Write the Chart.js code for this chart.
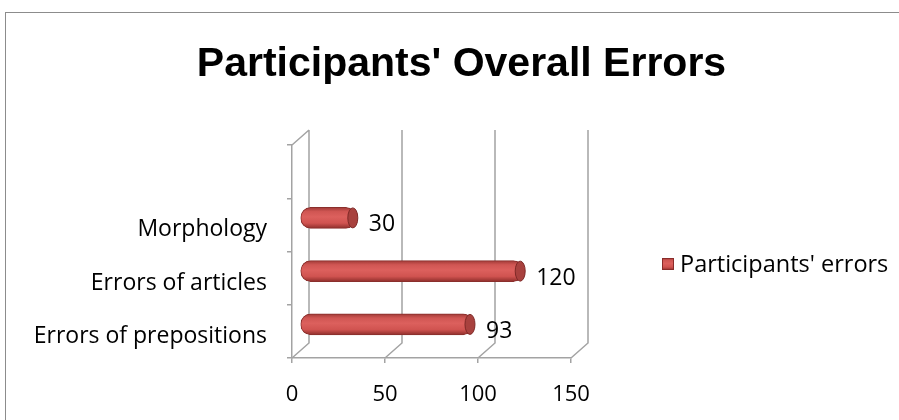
<!DOCTYPE html>
<html>
<head>
<meta charset="utf-8">
<script src="https://cdn.jsdelivr.net/npm/chart.js@4.4.1/dist/chart.umd.min.js"></script>
<style>
  html, body { margin: 0; padding: 0; background: #fff; overflow: hidden; }
  #wrap { position: relative; width: 899px; height: 420px; }
  #frame { position: absolute; left: 5px; top: 12px; width: 1000px; height: 1000px; border: 1.5px solid #8c8c8c; }
  canvas { position: absolute; left: 0; top: 0; }
</style>
</head>
<body>
<div id="wrap">
  <div id="frame"></div>
  <canvas id="errorsChart" width="899" height="420"></canvas>
</div>
<script>
const categories = ["", "Morphology", "Errors of articles", "Errors of prepositions"];
const errorCounts = [null, 30, 120, 93];
const xTickValues = [0, 50, 100, 150];
const seriesName = "Participants' errors";
const chartTitle = "Participants' Overall Errors";

const LABEL_FONT = "'Open Sans', 'Noto Sans', sans-serif";
const WALL = { dx: 17, dy: -15 };
const BAR_SHIFT = { dx: 8, dy: -7 };
const LINE_COLOR = "#a3a3a3";

function barGradient(ctx, y0, y1) {
  const g = ctx.createLinearGradient(0, y0, 0, y1);
  g.addColorStop(0, "#a03a37");
  g.addColorStop(0.2, "#d05653");
  g.addColorStop(0.45, "#dc605d");
  g.addColorStop(0.75, "#d05350");
  g.addColorStop(1, "#8e2e2b");
  return g;
}

// back wall, floor diagonals and bar offset for the 3D look
const wallPlugin = {
  id: "wall3d",
  beforeDatasetsDraw(chart) {
    const { ctx, chartArea, scales } = chart;
    ctx.save();
    ctx.strokeStyle = LINE_COLOR;
    ctx.lineWidth = 1.5;
    ctx.beginPath();
    xTickValues.forEach(v => {
      const x = scales.x.getPixelForValue(v);
      ctx.moveTo(x, chartArea.bottom);
      ctx.lineTo(x + WALL.dx, chartArea.bottom + WALL.dy);
      ctx.lineTo(x + WALL.dx, chartArea.top + WALL.dy);
    });
    ctx.moveTo(chartArea.left, chartArea.top);
    ctx.lineTo(chartArea.left + WALL.dx, chartArea.top + WALL.dy);
    ctx.stroke();
    ctx.restore();

    ctx.save();
    ctx.translate(BAR_SHIFT.dx, BAR_SHIFT.dy);
  },
  afterDatasetsDraw(chart) {
    const { ctx } = chart;
    const meta = chart.getDatasetMeta(0);
    meta.data.forEach((bar, i) => {
      if (errorCounts[i] == null) return;
      const h = bar.height / 2;
      ctx.fillStyle = "#a8413e";
      ctx.strokeStyle = "#7e2826";
      ctx.lineWidth = 1;
      ctx.beginPath();
      ctx.ellipse(bar.x - 3, bar.y, 5, h - 0.5, 0, 0, Math.PI * 2);
      ctx.fill();
      ctx.stroke();
    });
    ctx.restore();

    ctx.save();
    ctx.fillStyle = "#000";
    ctx.font = "23px " + LABEL_FONT;
    ctx.textAlign = "left";
    ctx.textBaseline = "middle";
    meta.data.forEach((bar, i) => {
      if (errorCounts[i] == null) return;
      ctx.fillText(String(errorCounts[i]), bar.x + BAR_SHIFT.dx + 13, bar.y + BAR_SHIFT.dy + 7);
    });
    ctx.restore();
  },
  afterDraw(chart) {
    const { ctx, chartArea } = chart;
    const lx = chartArea.right + 91;
    const ly = 264;
    ctx.save();
    ctx.fillStyle = barGradient(ctx, ly - 6, ly + 6);
    ctx.fillRect(lx, ly - 6, 12, 12);
    ctx.strokeStyle = "#8a2c2a";
    ctx.lineWidth = 1;
    ctx.strokeRect(lx + 0.5, ly - 5.5, 11, 11);
    ctx.fillStyle = "#000";
    ctx.font = "23.5px " + LABEL_FONT;
    ctx.textAlign = "left";
    ctx.textBaseline = "middle";
    ctx.fillText(seriesName, lx + 18, ly + 1);
    ctx.restore();
  }
};

new Chart(document.getElementById("errorsChart"), {
  type: "bar",
  data: {
    labels: categories,
    datasets: [
      {
        label: seriesName,
        data: errorCounts,
        barThickness: 21,
        borderRadius: 10,
        borderSkipped: false,
        borderWidth: 1,
        borderColor: "#8a2f2c",
        backgroundColor(c) {
          const chart = c.chart;
          if (!chart.scales || !chart.scales.y || c.dataIndex == null) return "#d65a57";
          const yc = chart.scales.y.getPixelForValue(c.dataIndex);
          if (!Number.isFinite(yc)) return "#d65a57";
          return barGradient(chart.ctx, yc - 10.5, yc + 10.5);
        },
      },
    ],
  },
  options: {
    indexAxis: "y",
    responsive: false,
    animation: false,
    layout: { padding: { left: 24, right: 0, top: 0, bottom: 0 } },
    plugins: {
      legend: { display: false },
      tooltip: { enabled: false },
      title: {
        display: true,
        text: chartTitle,
        color: "#000",
        font: { family: "'Liberation Sans', sans-serif", size: 41, weight: "bold" },
        padding: { top: 40, bottom: 55.8 },
      },
    },
    scales: {
      x: {
        type: "linear",
        min: 0,
        max: 150,
        afterBuildTicks(scale) {
          scale.ticks = xTickValues.map(v => ({ value: v }));
        },
        afterFit(scale) { scale.height = 62; },
        ticks: { color: "#000", font: { family: LABEL_FONT, size: 22 }, padding: 19 },
        grid: { drawOnChartArea: false, drawTicks: true, tickLength: 5, color: LINE_COLOR, lineWidth: 1.5 },
        border: { display: true, color: LINE_COLOR, width: 1.5 },
      },
      y: {
        afterFit(scale) { scale.width = 268; },
        ticks: { color: "#000", font: { family: LABEL_FONT, size: 23 }, padding: 20, autoSkip: false, labelOffset: 5 },
        grid: { drawOnChartArea: false, drawTicks: true, tickLength: 5, offset: true, color: LINE_COLOR, lineWidth: 1.5 },
        border: { display: true, color: LINE_COLOR, width: 1.5 },
      },
      // empty right-hand band that holds the legend
      legendBand: {
        type: "category",
        position: "right",
        afterFit(scale) { scale.width = 328; },
        ticks: { display: false },
        grid: { display: false },
        border: { display: false },
      },
    },
  },
  plugins: [wallPlugin],
});
</script>
</body>
</html>
